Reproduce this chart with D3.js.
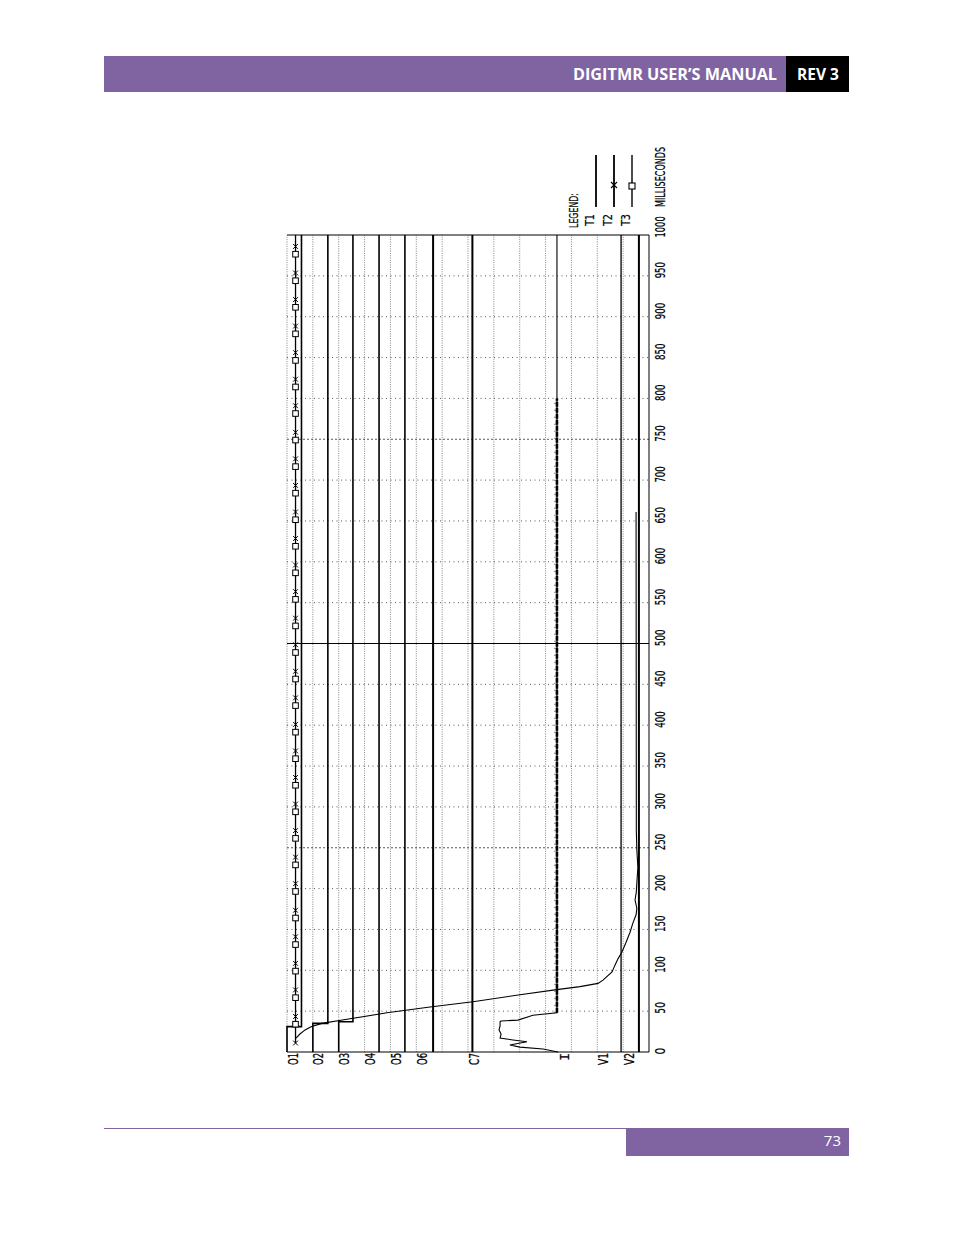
<!DOCTYPE html>
<html><head><meta charset="utf-8">
<script src="https://cdn.jsdelivr.net/npm/d3@7"></script>
<style>body{margin:0;background:#fff}</style>
</head><body>
<svg id="c" width="954" height="1235" xmlns="http://www.w3.org/2000/svg"></svg>
<script>
// ---------------- DATA ----------------
const timeTicks = [0,50,100,150,200,250,300,350,400,450,500,550,600,650,700,750,800,850,900,950,1000];
const channelNames = ["O1","O2","O3","O4","O5","O6","C7","I","V1","V2"];
const channelLanes = [0,1,2,3,4,5,7,10.5,12,13];

// digital contact traces (T1): level before and after the change, change time (ms)
const digitalNames  = ["O1","O2","O3","O4","O5","O6","C7"];
const digitalLow    = [0.00,1.00,2.00,3.56,4.56,5.65,7.17];
const digitalHigh   = [0.56,1.58,2.55,3.56,4.56,5.65,7.17];
const digitalChange = [31,35,37,0,0,0,0];

// O1 phases T2 / T3 (overlapping)
const o1PhaseStart = 11;
const o1PhaseLevel = 0.33;

// coil current trace I
const currentTime  = [0,3.7,6,8.6,12.6,14.7,17,22,27,32,37,38,39,45,48,1000];
const currentLevel = [10.48,9.90,9.01,8.62,9.28,8.74,8.24,8.28,8.20,8.24,8.24,8.28,8.93,9.51,10.44,10.44];
const currentNoiseEnd = 800;

// travel curve
const travelTime  = [17,22,27,31,35,40,48,55,61.6,70,76,80,84,88,98,106,114,122,134,146,158,168,176,186,196,207,226,247,270,661];
const travelLevel = [0.35,0.50,0.70,0.93,1.35,2.32,3.87,5.53,7.19,9.01,10.36,11.33,12.03,12.22,12.57,12.68,12.80,12.95,13.11,13.26,13.38,13.50,13.53,13.46,13.51,13.53,13.57,13.53,13.51,13.50];

// voltage channels
const v1Level = 12.92;
const v2Level = 13.61;

const legendLabels = ["T1","T2","T3"];

// ---------------- DRAW ----------------
const svg = d3.select("#c");
const PURPLE = "#8064A2";
const FONT = "'Liberation Sans Narrow','DejaVu Sans Condensed','DejaVu Sans',sans-serif";

// page header / footer
svg.append("rect").attr("x",104).attr("y",56).attr("width",682).attr("height",36).attr("fill",PURPLE);
svg.append("rect").attr("x",786).attr("y",56).attr("width",63).attr("height",36).attr("fill","#000");
svg.append("text").attr("x",777).attr("y",80).attr("text-anchor","end")
  .attr("font-family","'Open Sans','Noto Sans',sans-serif").attr("font-weight","bold").attr("font-size",15.5)
  .attr("fill","#fff").attr("textLength",204).attr("lengthAdjust","spacingAndGlyphs").text("DIGITMR USER’S MANUAL");
svg.append("text").attr("x",818).attr("y",80).attr("text-anchor","middle")
  .attr("font-family","'Open Sans','Noto Sans',sans-serif").attr("font-weight","bold").attr("font-size",15.5)
  .attr("fill","#fff").text("REV 3");
svg.append("line").attr("x1",104).attr("x2",626).attr("y1",1128.5).attr("y2",1128.5).attr("stroke",PURPLE).attr("stroke-width",1);
svg.append("rect").attr("x",626).attr("y",1128).attr("width",223).attr("height",28).attr("fill",PURPLE);
svg.append("text").attr("x",841).attr("y",1146).attr("text-anchor","end")
  .attr("font-family","'Open Sans','Noto Sans',sans-serif").attr("font-size",15)
  .attr("fill","#fff").text("73");

// chart, drawn in its natural landscape orientation then rotated
const W = 817, H = 362;
const g = svg.append("g").attr("transform","translate(287,1052) rotate(-90)");
const x = d3.scaleLinear().domain([0,1000]).range([0,W]);
const y = d3.scaleLinear().domain([0,14]).range([0,H]);
const line = d3.line().x(d=>x(d[0])).y(d=>y(d[1]));

// lane grid (dotted)
g.append("g").selectAll("line").data(d3.range(0,14)).join("line")
  .attr("x1",x(0)).attr("x2",x(1000)).attr("y1",d=>y(d)).attr("y2",d=>y(d))
  .attr("stroke","#777").attr("stroke-width",0.9).attr("stroke-dasharray","1,1.3");

// time grid
g.append("g").selectAll("line").data(timeTicks.filter(t=>t>0&&t<1000)).join("line")
  .attr("x1",d=>x(d)).attr("x2",d=>x(d)).attr("y1",y(0)).attr("y2",y(14))
  .attr("stroke",d=>d===500?"#000":"#444")
  .attr("stroke-width",d=>d===500?1:0.9)
  .attr("stroke-dasharray",d=>d===500?null:(d===250||d===750?"2,2":"1,3.5"));

// frame (left, right, bottom)
g.append("path").attr("d",`M${x(0)},${y(0)}V${y(14)}H${x(1000)}V${y(0)}`)
  .attr("fill","none").attr("stroke","#000").attr("stroke-width",1);

// digital traces
digitalNames.forEach((n,i)=>{
  const pts = [[0,digitalLow[i]],[digitalChange[i],digitalLow[i]],[digitalChange[i],digitalHigh[i]],[1000,digitalHigh[i]]];
  g.append("path").attr("d",line(pts)).attr("fill","none").attr("stroke","#000")
    .attr("stroke-width", i>=5 ? 2 : 1.6);
});

// O1 T2/T3 line with markers
g.append("path").attr("d",line([[o1PhaseStart,o1PhaseLevel],[1000,o1PhaseLevel]]))
  .attr("fill","none").attr("stroke","#000").attr("stroke-width",1.3);
const xMarks = d3.range(o1PhaseStart, 1000, 32.5);
const sqMarks = d3.range(o1PhaseStart+23, 1000, 32.5);
const cross = (cx,cy,s)=>`M${cx-s},${cy-s}L${cx+s},${cy+s}M${cx-s},${cy+s}L${cx+s},${cy-s}`;
g.append("g").selectAll("path").data(xMarks).join("path")
  .attr("d",d=>cross(x(d),y(o1PhaseLevel),2.4)).attr("stroke","#000").attr("stroke-width",1);
g.append("g").selectAll("rect").data(sqMarks).join("rect")
  .attr("x",d=>x(d)-2.8).attr("y",y(o1PhaseLevel)-2.8).attr("width",5.6).attr("height",5.6)
  .attr("fill","#fff").attr("stroke","#000").attr("stroke-width",1);

// current trace
g.append("path").attr("d",line(currentTime.map((t,i)=>[t,currentLevel[i]])))
  .attr("fill","none").attr("stroke","#000").attr("stroke-width",1.1);
g.append("path").attr("d",line([[currentTime[currentTime.length-2],currentLevel[currentLevel.length-1]],[currentNoiseEnd,currentLevel[currentLevel.length-1]]]))
  .attr("fill","none").attr("stroke","#000").attr("stroke-width",2.6).attr("stroke-dasharray","5,1");
g.append("path").attr("d",line([[currentTime[currentTime.length-2],currentLevel[currentLevel.length-1]-0.08],[currentNoiseEnd,currentLevel[currentLevel.length-1]-0.08]]))
  .attr("fill","none").attr("stroke","#000").attr("stroke-width",0.8).attr("stroke-dasharray","1,6");

// travel curve
g.append("path").attr("d",line(travelTime.map((t,i)=>[t,travelLevel[i]])))
  .attr("fill","none").attr("stroke","#000").attr("stroke-width",1.1);

// voltage lines
g.append("path").attr("d",line([[0,v1Level],[1000,v1Level]])).attr("fill","none").attr("stroke","#000").attr("stroke-width",1.3);
g.append("path").attr("d",line([[0,v2Level],[1000,v2Level]])).attr("fill","none").attr("stroke","#000").attr("stroke-width",2);

// channel labels
g.append("g").selectAll("text").data(channelNames).join("text")
  .attr("x",-1).attr("y",(d,i)=>y(channelLanes[i])+10.5)
  .attr("text-anchor","end")
  .attr("font-family",d=>d==="I"?"'DejaVu Sans Mono',monospace":FONT)
  .attr("font-size",d=>d==="I"?13:13.5).attr("fill","#000").attr("stroke","#000").attr("stroke-width",0.25)
  .each(function(d){ if(d.length>1) d3.select(this).attr("textLength",12).attr("lengthAdjust","spacingAndGlyphs"); })
  .text(d=>d);

// time axis labels
const axis = d3.axisBottom(x).tickValues(timeTicks).tickSize(0).tickFormat(d3.format("d"));
const ax = g.append("g").attr("transform",`translate(0,${H+16})`).call(axis);
ax.select(".domain").remove();
ax.selectAll("text")
  .attr("x",-3).attr("y",0).attr("dy",0).attr("text-anchor","start")
  .attr("font-family",FONT).attr("font-size",13.5).attr("fill","#000").attr("stroke","#000").attr("stroke-width",0.2)
  .attr("textLength",function(){ return this.textContent.length*4.8+2; })
  .attr("lengthAdjust","spacingAndGlyphs");
g.append("text").attr("x",W+28).attr("y",H+16).attr("font-family",FONT).attr("font-size",13.5)
  .attr("stroke","#000").attr("stroke-width",0.2)
  .attr("textLength",60).attr("lengthAdjust","spacingAndGlyphs").attr("fill","#000").text("MILLISECONDS");

// legend
g.append("text").attr("x",W+7).attr("y",291).attr("font-family",FONT).attr("font-size",11.5)
  .attr("stroke","#000").attr("stroke-width",0.2)
  .attr("textLength",35).attr("lengthAdjust","spacingAndGlyphs").attr("fill","#000").text("LEGEND:");
const legY = [309,327,345];
legendLabels.forEach((lab,i)=>{
  g.append("text").attr("x",W+9).attr("y",legY[i]-2).attr("font-family",FONT).attr("font-size",11.5)
    .attr("stroke","#000").attr("stroke-width",0.2)
    .attr("textLength",12).attr("lengthAdjust","spacingAndGlyphs").attr("fill","#000").text(lab);
  g.append("line").attr("x1",W+28).attr("x2",W+80).attr("y1",legY[i]).attr("y2",legY[i])
    .attr("stroke","#000").attr("stroke-width",i<2?1.8:1.4);
});
g.append("path").attr("d",cross(W+50,legY[1],3)).attr("stroke","#000").attr("stroke-width",1.1);
g.append("rect").attr("x",W+49-3).attr("y",legY[2]-3).attr("width",6).attr("height",6)
  .attr("fill","#fff").attr("stroke","#000").attr("stroke-width",1.1);
</script>
</body></html>
